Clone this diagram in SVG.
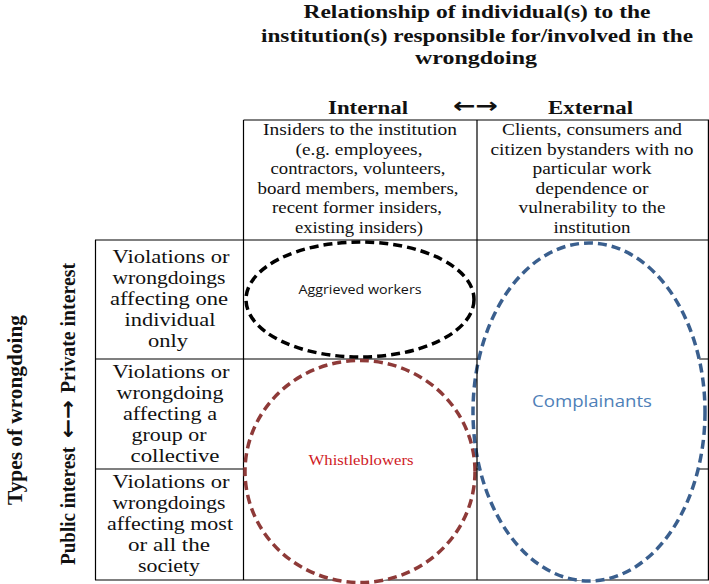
<svg xmlns="http://www.w3.org/2000/svg" width="709" height="584" viewBox="0 0 709 584">
<style>
.t{font-family:"Liberation Serif","Times New Roman",serif;fill:#111;text-anchor:middle}
.ttl{font-size:18px;font-weight:bold}
.hd{font-size:17px}
.rw{font-size:19px}
.vt{font-size:21px;font-weight:bold}
.arr{font-family:"DejaVu Sans",sans-serif;font-weight:bold;fill:#111;text-anchor:middle}
.grid line{stroke:#000;stroke-width:1.2}
.ell{fill:#fff;stroke-width:3.5;stroke-dasharray:9 5}
.lab{text-anchor:middle}
</style>
<rect width="709" height="584" fill="#fff"/>

<g id="title">
<text class="t ttl" x="477" y="18" textLength="347" lengthAdjust="spacingAndGlyphs">Relationship of individual(s) to the</text>
<text class="t ttl" x="477" y="42" textLength="432" lengthAdjust="spacingAndGlyphs">institution(s) responsible for/involved in the</text>
<text class="t ttl" x="476" y="64" textLength="122" lengthAdjust="spacingAndGlyphs">wrongdoing</text>
</g>

<g id="axis-horizontal">
<text class="t ttl" x="368" y="114" textLength="80" lengthAdjust="spacingAndGlyphs">Internal</text>
<text class="arr" x="475.5" y="113" font-size="21" textLength="45" lengthAdjust="spacingAndGlyphs">←→</text>
<text class="t ttl" x="590.5" y="114" textLength="85" lengthAdjust="spacingAndGlyphs">External</text>
</g>

<g id="axis-vertical">
<text class="t vt" transform="translate(22,410) rotate(-90)" x="0" y="0" textLength="190" lengthAdjust="spacingAndGlyphs">Types of wrongdoing</text>
<text class="t vt" transform="translate(75,506) rotate(-90)" x="0" y="0" textLength="118" lengthAdjust="spacingAndGlyphs">Public interest</text>
<text class="arr" transform="translate(75,419) rotate(-90)" x="0" y="0" font-size="21" textLength="38" lengthAdjust="spacingAndGlyphs">←→</text>
<text class="t vt" transform="translate(75,328) rotate(-90)" x="0" y="0" textLength="130" lengthAdjust="spacingAndGlyphs">Private interest</text>
</g>

<g id="connectors" class="grid">
<line x1="243.5" y1="120" x2="709" y2="120"/>
<line x1="95" y1="240" x2="709" y2="240"/>
<line x1="95" y1="359" x2="709" y2="359"/>
<line x1="95" y1="469" x2="709" y2="469"/>
<line x1="95" y1="580" x2="709" y2="580"/>
<line x1="95.5" y1="240" x2="95.5" y2="580"/>
<line x1="243.5" y1="120" x2="243.5" y2="580"/>
<line x1="708.4" y1="120" x2="708.4" y2="580"/>
</g>

<g id="header-internal">
<text class="t hd" x="360" y="135" textLength="194" lengthAdjust="spacingAndGlyphs">Insiders to the institution</text>
<text class="t hd" x="359" y="155" textLength="127" lengthAdjust="spacingAndGlyphs">(e.g. employees,</text>
<text class="t hd" x="358" y="174" textLength="175" lengthAdjust="spacingAndGlyphs">contractors, volunteers,</text>
<text class="t hd" x="358" y="194" textLength="201" lengthAdjust="spacingAndGlyphs">board members, members,</text>
<text class="t hd" x="357" y="213" textLength="170" lengthAdjust="spacingAndGlyphs">recent former insiders,</text>
<text class="t hd" x="359" y="233" textLength="128" lengthAdjust="spacingAndGlyphs">existing insiders)</text>
</g>

<g id="header-external">
<text class="t hd" x="592" y="135" textLength="180" lengthAdjust="spacingAndGlyphs">Clients, consumers and</text>
<text class="t hd" x="592" y="155" textLength="203" lengthAdjust="spacingAndGlyphs">citizen bystanders with no</text>
<text class="t hd" x="592" y="174" textLength="119" lengthAdjust="spacingAndGlyphs">particular work</text>
<text class="t hd" x="592" y="194" textLength="113" lengthAdjust="spacingAndGlyphs">dependence or</text>
<text class="t hd" x="592" y="213" textLength="147" lengthAdjust="spacingAndGlyphs">vulnerability to the</text>
<text class="t hd" x="592" y="233" textLength="77" lengthAdjust="spacingAndGlyphs">institution</text>
</g>

<g id="row-individual">
<text class="t rw" x="171" y="263" textLength="117" lengthAdjust="spacingAndGlyphs">Violations or</text>
<text class="t rw" x="169" y="284" textLength="113" lengthAdjust="spacingAndGlyphs">wrongdoings</text>
<text class="t rw" x="169" y="305" textLength="118" lengthAdjust="spacingAndGlyphs">affecting one</text>
<text class="t rw" x="170" y="326" textLength="91" lengthAdjust="spacingAndGlyphs">individual</text>
<text class="t rw" x="168" y="347" textLength="40" lengthAdjust="spacingAndGlyphs">only</text>
</g>

<g id="row-group">
<text class="t rw" x="171" y="378" textLength="117" lengthAdjust="spacingAndGlyphs">Violations or</text>
<text class="t rw" x="170" y="399" textLength="107" lengthAdjust="spacingAndGlyphs">wrongdoing</text>
<text class="t rw" x="170" y="420" textLength="94" lengthAdjust="spacingAndGlyphs">affecting a</text>
<text class="t rw" x="169" y="441" textLength="75" lengthAdjust="spacingAndGlyphs">group or</text>
<text class="t rw" x="175" y="462" textLength="89" lengthAdjust="spacingAndGlyphs">collective</text>
</g>

<g id="row-society">
<text class="t rw" x="171" y="488" textLength="117" lengthAdjust="spacingAndGlyphs">Violations or</text>
<text class="t rw" x="169" y="509" textLength="113" lengthAdjust="spacingAndGlyphs">wrongdoings</text>
<text class="t rw" x="170" y="530" textLength="126" lengthAdjust="spacingAndGlyphs">affecting most</text>
<text class="t rw" x="169" y="551" textLength="82" lengthAdjust="spacingAndGlyphs">or all the</text>
<text class="t rw" x="169" y="572" textLength="62" lengthAdjust="spacingAndGlyphs">society</text>
</g>

<g id="aggrieved-workers">
<ellipse class="ell" cx="360" cy="299.5" rx="114" ry="57.5" stroke="#000"/>
<text class="lab" x="360" y="294" font-family="'Open Sans','Liberation Sans',sans-serif" font-size="12" fill="#111" textLength="123" lengthAdjust="spacingAndGlyphs">Aggrieved workers</text>
</g>

<g id="whistleblowers">
<ellipse class="ell" cx="360" cy="471.5" rx="115" ry="111" stroke="#8e3a38"/>
<text class="lab" x="361" y="465" font-family="'Liberation Serif',serif" font-size="15" fill="#d0201f" textLength="105" lengthAdjust="spacingAndGlyphs">Whistleblowers</text>
</g>

<g id="complainants">
<ellipse class="ell" cx="589" cy="412" rx="116" ry="169" stroke="#3a5f8e"/>
<text class="lab" x="592" y="407" font-family="'Open Sans','Liberation Sans',sans-serif" font-size="15.5" fill="#4f7fb8" textLength="120" lengthAdjust="spacingAndGlyphs">Complainants</text>
</g>

<g id="divider" class="grid">
<line x1="477" y1="120" x2="477" y2="580"/>
</g>
</svg>
